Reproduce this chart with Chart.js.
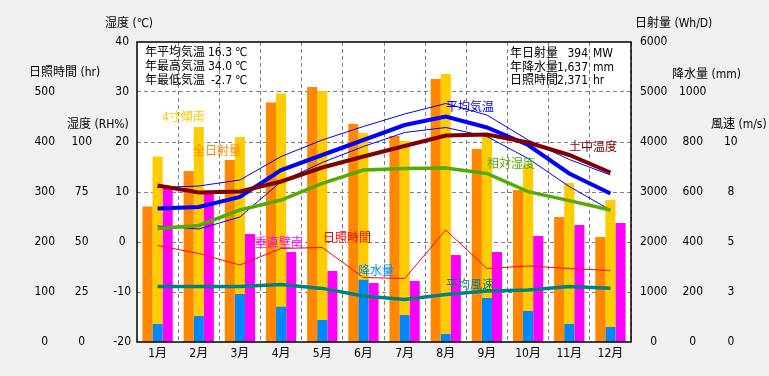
<!DOCTYPE html>
<html lang="ja">
<head>
<meta charset="UTF-8">
<title>月別気象データ</title>
<style>
  html, body { margin: 0; padding: 0; background: #f0f0f0; }
  #wrap { width: 769px; height: 376px; }
</style>
</head>
<body>
<div id="wrap"><canvas id="chart" width="769" height="376"></canvas></div>
<script src="https://cdn.jsdelivr.net/npm/chart.js"></script>
<script>
// --- data ---
const months = ['1月', '2月', '3月', '4月', '5月', '6月', '7月', '8月', '9月', '10月', '11月', '12月'];

// 日射量 (Wh/D)
const radAll  = [2710, 3420, 3640, 4790, 5100, 4360, 4120, 5260, 3860, 3040, 2500, 2100]; // 全日射量
const radTilt = [3710, 4300, 4100, 4970, 5020, 4180, 4020, 5360, 4100, 3540, 3180, 2840]; // 4寸傾南
const radWall = [3080, 3000, 2160, 1800, 1420, 1180, 1220, 1740, 1800, 2120, 2340, 2380]; // 垂直壁南
// 降水量 (mm)
const precip = [72, 104, 192, 141, 88, 249, 108, 32, 176, 124, 72, 60];
// 温度 (℃)
const tempAvg  = [6.7, 7.0, 9.0, 14.4, 17.4, 20.4, 23.4, 25.1, 22.9, 19.4, 13.7, 9.7];
const tempMax  = [10.9, 11.2, 12.4, 17.1, 20.4, 23.1, 25.6, 27.7, 25.4, 20.4, 16.5, 13.4];
const tempMin  = [3.2, 2.6, 5.0, 12.1, 15.9, 19.1, 21.9, 22.9, 21.1, 16.7, 11.1, 6.4];
const soilTemp = [11.3, 9.9, 10.1, 12.1, 14.9, 17.1, 19.2, 21.3, 21.5, 19.9, 17.4, 13.9];
// 相対湿度 (RH%)
const humidity = [56.8, 58.3, 66, 71, 79.3, 86, 86.7, 87, 84.3, 75.2, 70.7, 66];
// 日照時間 (hr)
const sunshine = [193, 177, 154, 187, 189, 129, 127, 224, 147, 152, 147, 143];
// 平均風速 (m/s)
const wind = [2.77, 2.77, 2.77, 2.88, 2.68, 2.3, 2.13, 2.37, 2.55, 2.6, 2.77, 2.69];

// wind axis shows rounded labels
const windTicks = [0, 2.5, 5, 7.5, 10];
const windTickLabels = ['0', '3', '5', '8', '10'];

// yearly summary
const statsLeftNames  = ['年平均気温', '年最高気温', '年最低気温'];
const statsLeftValues = ['16.3', '34.0', '-2.7'];
const statsLeftUnits  = ['℃', '℃', '℃'];
const statsRightNames  = ['年日射量', '年降水量', '日照時間'];
const statsRightValues = ['394', '1,637', '2,371'];
const statsRightUnits  = ['MW', 'mm', 'hr'];

const FONT = "'Liberation Sans Narrow', 'DejaVu Sans Condensed', 'Noto Sans CJK JP', sans-serif";
Chart.defaults.font.family = FONT;
Chart.defaults.font.size = 12;
Chart.defaults.color = '#000';

function limitLabel(max) {
  return v => (v <= max ? String(v) : null);
}

function fixedWidth(w) {
  return s => { s.width = w; };
}

// background, frame and all the free text
const decor = {
  id: 'decor',
  beforeDraw(chart) {
    const { ctx, chartArea: a } = chart;
    ctx.save();
    ctx.fillStyle = '#f0f0f0';
    ctx.fillRect(0, 0, chart.width, chart.height);
    ctx.fillStyle = '#ffffff';
    ctx.fillRect(a.left, a.top, a.right - a.left, a.bottom - a.top);
    ctx.restore();
  },
  afterDraw(chart, args, opts) {
    const { ctx, chartArea: a } = chart;
    ctx.save();
    ctx.strokeStyle = '#000';
    ctx.lineWidth = 1.5;
    ctx.strokeRect(a.left, a.top, a.right - a.left, a.bottom - a.top);

    ctx.font = '12px ' + FONT;
    ctx.textBaseline = 'middle';
    ctx.textAlign = 'left';
    ctx.fillStyle = '#000';
    opts.titles.forEach(t => ctx.fillText(t.text, t.x, t.y));

    opts.stats.forEach(s => {
      s.names.forEach((n, i) => {
        const y = s.y + i * s.gap;
        ctx.textAlign = 'left';
        ctx.fillText(n, s.x, y);
        ctx.textAlign = 'right';
        ctx.fillText(s.values[i], s.valueX, y);
        ctx.textAlign = 'left';
        ctx.fillText(s.units[i], s.unitX, y);
      });
    });

    ctx.textAlign = 'left';
    opts.labels.forEach(l => {
      ctx.fillStyle = l.color;
      ctx.fillText(l.text, l.x, l.y);
    });
    ctx.restore();
  }
};

const line = (label, data, axis, color, width, order) => ({
  type: 'line', label, data, yAxisID: axis,
  borderColor: color, backgroundColor: color, borderWidth: width,
  pointRadius: 0, tension: 0, order
});

new Chart(document.getElementById('chart'), {
  type: 'bar',
  data: {
    labels: months,
    datasets: [
      line('平均風速', wind, 'yWind', '#008080', 3.5, 0),
      line('日照時間', sunshine, 'ySun', '#ff0000', 1, 0),
      line('相対湿度', humidity, 'yHum', '#55aa00', 3.5, 0),
      line('土中温度', soilTemp, 'yTemp', '#800000', 4, 0),
      line('最高気温', tempMax, 'yTemp', '#0000ff', 1, 0),
      line('最低気温', tempMin, 'yTemp', '#0000ff', 1, 0),
      line('平均気温', tempAvg, 'yTemp', '#0000ff', 4, 0),
      { label: '全日射量', data: radAll, yAxisID: 'yRad', backgroundColor: '#ff8800', stack: 'a', order: 1 },
      { label: '降水量', data: precip, yAxisID: 'yPrec', backgroundColor: '#0088ff', stack: 'b', order: 1 },
      { label: '4寸傾南', data: radTilt, yAxisID: 'yRad', backgroundColor: '#ffcc00', stack: 'b', order: 2 },
      { label: '垂直壁南', data: radWall, yAxisID: 'yRad', backgroundColor: '#ff00ff', stack: 'c', order: 2 }
    ]
  },
  options: {
    responsive: false,
    animation: false,
    events: [],
    layout: { padding: { top: 42, left: 0, right: 0, bottom: 0 } },
    datasets: { bar: { categoryPercentage: 0.735, barPercentage: 1 } },
    plugins: {
      legend: { display: false },
      tooltip: { enabled: false },
      decor: {
        titles: [
          { text: '湿度 (℃)', x: 105, y: 24 },
          { text: '日照時間 (hr)', x: 29, y: 73 },
          { text: '湿度 (RH%)', x: 67, y: 125 },
          { text: '日射量 (Wh/D)', x: 635, y: 24 },
          { text: '降水量 (mm)', x: 672, y: 75 },
          { text: '風速 (m/s)', x: 711, y: 125 }
        ],
        stats: [
          { names: statsLeftNames, values: statsLeftValues, units: statsLeftUnits,
            x: 145, valueX: 232, unitX: 235, y: 53, gap: 14 },
          { names: statsRightNames, values: statsRightValues, units: statsRightUnits,
            x: 510, valueX: 588, unitX: 593, y: 54, gap: 13.5 }
        ],
        labels: [
          { text: '4寸傾南', color: '#ffcc00', x: 162, y: 118 },
          { text: '全日射量', color: '#ff8800', x: 193, y: 152 },
          { text: '垂直壁南', color: '#ff00ff', x: 255, y: 244 },
          { text: '日照時間', color: '#ff0000', x: 323, y: 239 },
          { text: '降水量', color: '#0088ff', x: 358, y: 272 },
          { text: '平均風速', color: '#008080', x: 446, y: 286 },
          { text: '平均気温', color: '#0000ff', x: 446, y: 108 },
          { text: '土中温度', color: '#800000', x: 569, y: 148 },
          { text: '相対湿度', color: '#55aa00', x: 487, y: 165 }
        ]
      }
    },
    scales: {
      x: {
        offset: true,
        grid: {
          offset: true, drawTicks: false, lineWidth: 1,
          color: c => (c.index === 0 || c.index >= months.length ? 'rgba(0,0,0,0)' : '#808080')
        },
        border: { display: false, dash: [4, 3] },
        ticks: { padding: 5, maxRotation: 0, autoSkip: false },
        afterFit: s => { s.height = 34; }
      },
      yTemp: {
        position: 'left', weight: 0, min: -20, max: 40,
        ticks: { stepSize: 10, crossAlign: 'center', padding: 6 },
        grid: {
          drawTicks: false, lineWidth: 1,
          color: c => (c.tick && (c.tick.value === 40 || c.tick.value === -20) ? 'rgba(0,0,0,0)' : '#808080')
        },
        border: { display: false, dash: [4, 3] },
        afterFit: fixedWidth(33)
      },
      yHum: {
        position: 'left', weight: 1, min: 0, max: 150,
        ticks: { stepSize: 25, crossAlign: 'center', padding: 12, callback: limitLabel(100) },
        grid: { display: false, drawTicks: false },
        border: { display: false },
        afterFit: fixedWidth(38)
      },
      ySun: {
        position: 'left', weight: 2, min: 0, max: 600,
        ticks: { stepSize: 100, crossAlign: 'center', padding: 11, callback: limitLabel(500) },
        grid: { display: false, drawTicks: false },
        border: { display: false },
        afterFit: fixedWidth(66)
      },
      yRad: {
        position: 'right', weight: 0, min: 0, max: 6000, stacked: false,
        ticks: { stepSize: 1000, crossAlign: 'center', padding: 9, callback: v => String(v) },
        grid: { display: false, drawTicks: false },
        border: { display: false },
        afterFit: fixedWidth(40)
      },
      yPrec: {
        position: 'right', weight: 1, min: 0, max: 1200, stacked: false,
        ticks: { stepSize: 200, crossAlign: 'center', padding: 8, callback: limitLabel(1000) },
        grid: { display: false, drawTicks: false },
        border: { display: false },
        afterFit: fixedWidth(41)
      },
      yWind: {
        position: 'right', weight: 2, min: 0, max: 15,
        ticks: {
          stepSize: 2.5, crossAlign: 'center', padding: 12,
          callback: v => { const i = windTicks.indexOf(v); return i < 0 ? null : windTickLabels[i]; }
        },
        grid: { display: false, drawTicks: false },
        border: { display: false },
        afterFit: fixedWidth(57)
      }
    }
  },
  plugins: [decor]
});
</script>
</body>
</html>
